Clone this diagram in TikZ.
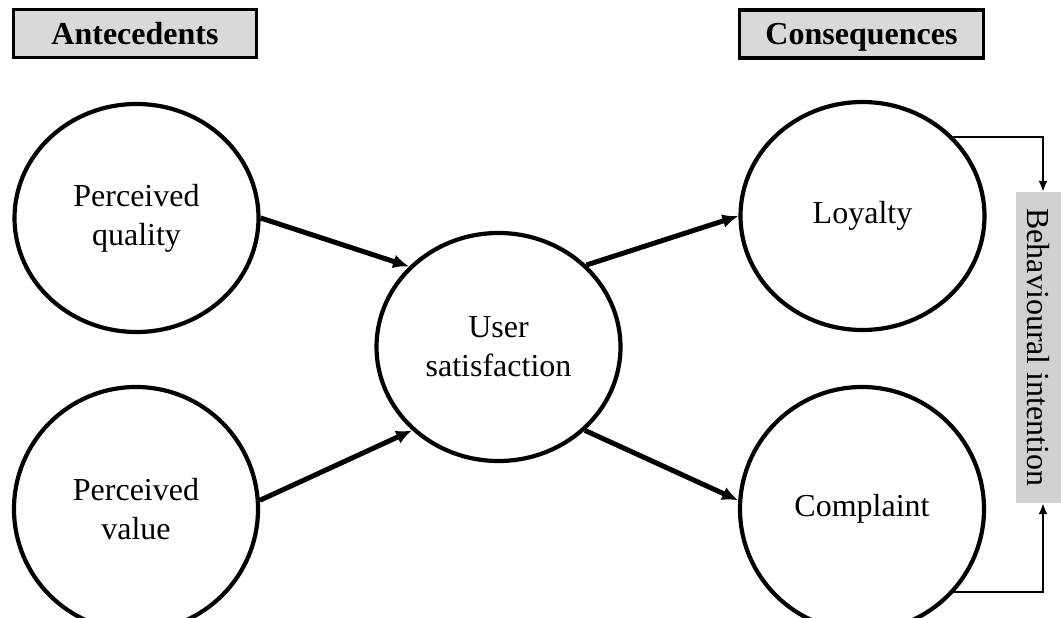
\documentclass[tikz,border=0pt]{standalone}
\usepackage{fontspec}
\setmainfont{Liberation Serif}
\usetikzlibrary{shapes.geometric,arrows.meta}
\definecolor{hdrgray}{HTML}{D9D9D9}
\definecolor{bigray}{HTML}{D0D0D0}
\tikzset{
  construct/.style={draw=black, line width=4.2pt, ellipse, inner sep=0pt, align=center,
    font=\fontsize{32}{39}\selectfont},
  toprow/.style={minimum width=244pt, minimum height=228pt},
  botrow/.style={minimum width=244pt, minimum height=244pt},
  header/.style={draw=black, line width=3.2pt, fill=hdrgray, minimum width=243pt, minimum height=48pt,
    inner sep=0pt, text height=24pt, text depth=2pt, font=\fontsize{32}{38}\selectfont\bfseries},
  mainarrow/.style={line width=5pt, -{Latex[length=16pt,width=14pt]}},
  thinarrow/.style={line width=2pt, -{Latex[length=11pt,width=9pt]}},
}
\begin{document}
\begin{tikzpicture}[x=1pt,y=-1pt]
\useasboundingbox (0,0) rectangle (1061,618);
\clip (0,0) rectangle (1061,618);
\fill[white] (0,0) rectangle (1061,618);
% headers
\node[header] (ant) at (135,33.5) {Antecedents};
\node[header, minimum width=244pt] (cons) at (861.5,34) {Consequences};
% constructs
\node[construct, toprow] (pq) at (136.5,218) {Perceived\\quality};
\node[construct, botrow] (pv) at (136,509) {Perceived\\value};
\node[construct, toprow] (us) at (498.5,347) {User\\satisfaction};
\node[construct, toprow] (ly) at (862.5,216) {Loyalty};
\node[construct, botrow] (cp) at (862,509) {Complaint};
% behavioural intention
\node[fill=bigray, rotate=-90, minimum width=311pt, minimum height=45pt, inner sep=0pt,
  font=\fontsize{32}{38}\selectfont] (bi) at (1038.5,347.5) {Behavioural intention};
% arrows
\draw[mainarrow] (pq.east) -- (us.138);
\draw[mainarrow] (pv.4) -- (us.-136);
\draw[mainarrow] (us.43) -- (ly.west);
\draw[mainarrow] (us.-44) -- (cp.176);
\draw[thinarrow] (ly.41) -| ([xshift=4.5pt]bi.west);
\draw[thinarrow] (cp.-42) -| ([xshift=4.5pt]bi.east);
\end{tikzpicture}
\end{document}
